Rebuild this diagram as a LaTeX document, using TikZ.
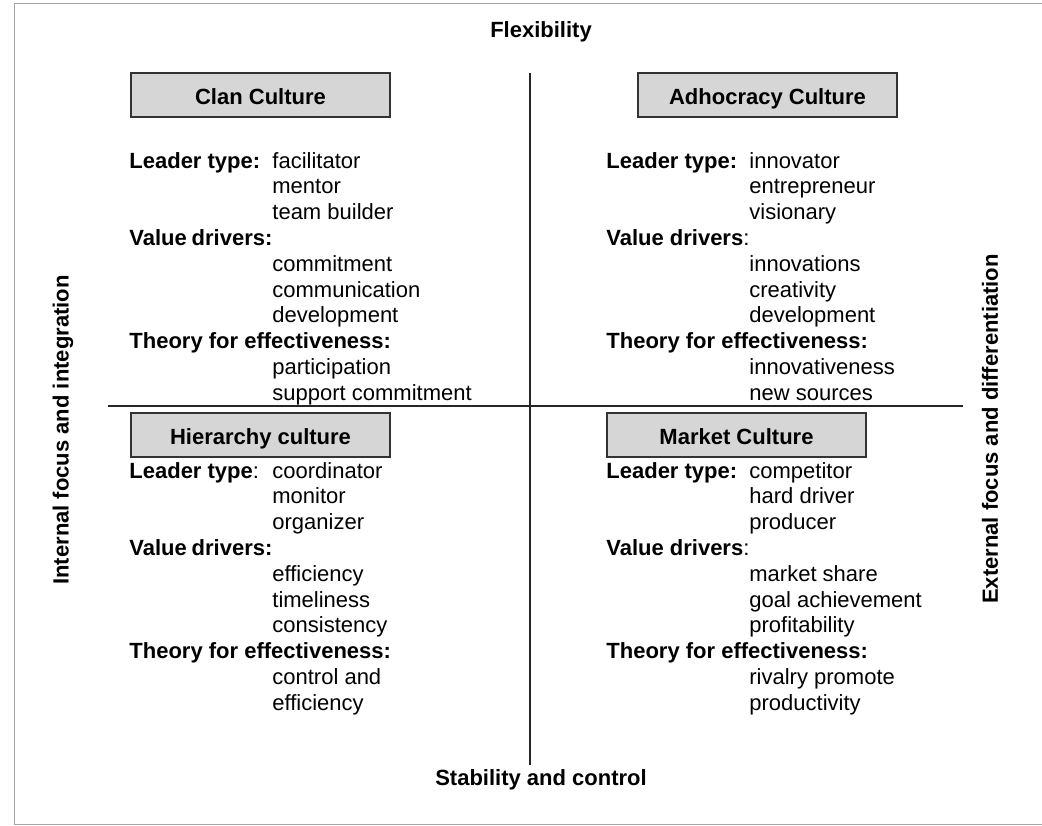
\documentclass[tikz,border=0pt]{standalone}
\usepackage{fontspec}
\setmainfont{Liberation Sans}
\tikzset{
  culture/.style={draw=black!80, fill=black!16, line width=0.9pt, minimum width=129.5pt, minimum height=22pt, inner sep=0pt, text height=9.4pt, text depth=0pt, font=\bfseries},
  traits/.style={anchor=base west, inner sep=0pt},
  axislabel/.style={font=\bfseries},
  axis/.style={line width=0.75pt, black!85}
}
\newcommand{\keycol}{71.5pt}
\begin{document}
\fontsize{11}{12.9}\selectfont
\begin{tikzpicture}[x=0.5pt,y=-0.5pt]
    \useasboundingbox (0,0) rectangle (1042,825);
    % frame
    \draw[black!35, line width=0.5pt] (1060,3) -- (14,3) -- (14,824) -- (1060,824);
    % axes
    \draw[axis] (530,73) -- (530,765);
    \draw[axis] (108,406) -- (963,406);
    \node[axislabel] (flex) at (541,32) {Flexibility};
    \node[axislabel] (stab) at (541,780) {Stability and control};
    \node[axislabel, rotate=90] (internal) at (63,430) {Internal focus and integration};
    \node[axislabel, rotate=90] (external) at (990,429) {External focus and differentiation};
    % quadrant headings
    \node[culture] (clan) at (260.5,95) {Clan Culture};
    \node[culture] (adhoc) at (767.5,95) {Adhocracy Culture};
    \node[culture] (hier) at (260.5,435) {Hierarchy culture};
    \node[culture] (market) at (736.5,435) {Market Culture};
    % quadrant texts
    \node[traits] (clantxt) at (129,168) {\begin{tabular}[t]{@{}p{\keycol}@{}l@{}}
        \textbf{Leader type:} & facilitator\\
        & mentor\\
        & team builder\\
        \textbf{Value drivers:} & \\
        & commitment\\
        & communication\\
        & development\\
        \multicolumn{2}{@{}l@{}}{\textbf{Theory for effectiveness:}}\\
        & participation\\
        & support commitment
    \end{tabular}};
    \node[traits] (adhoctxt) at (606,168) {\begin{tabular}[t]{@{}p{\keycol}@{}l@{}}
        \textbf{Leader type:} & innovator\\
        & entrepreneur\\
        & visionary\\
        \textbf{Value drivers}: & \\
        & innovations\\
        & creativity\\
        & development\\
        \multicolumn{2}{@{}l@{}}{\textbf{Theory for effectiveness:}}\\
        & innovativeness\\
        & new sources
    \end{tabular}};
    \node[traits] (hiertxt) at (129,478) {\begin{tabular}[t]{@{}p{\keycol}@{}l@{}}
        \textbf{Leader type}: & coordinator\\
        & monitor\\
        & organizer\\
        \textbf{Value drivers:} & \\
        & efficiency\\
        & timeliness\\
        & consistency\\
        \multicolumn{2}{@{}l@{}}{\textbf{Theory for effectiveness:}}\\
        & control and\\
        & efficiency
    \end{tabular}};
    \node[traits] (markettxt) at (606,478) {\begin{tabular}[t]{@{}p{\keycol}@{}l@{}}
        \textbf{Leader type:} & competitor\\
        & hard driver\\
        & producer\\
        \textbf{Value drivers}: & \\
        & market share\\
        & goal achievement\\
        & profitability\\
        \multicolumn{2}{@{}l@{}}{\textbf{Theory for effectiveness:}}\\
        & rivalry promote\\
        & productivity
    \end{tabular}};
\end{tikzpicture}
\end{document}
